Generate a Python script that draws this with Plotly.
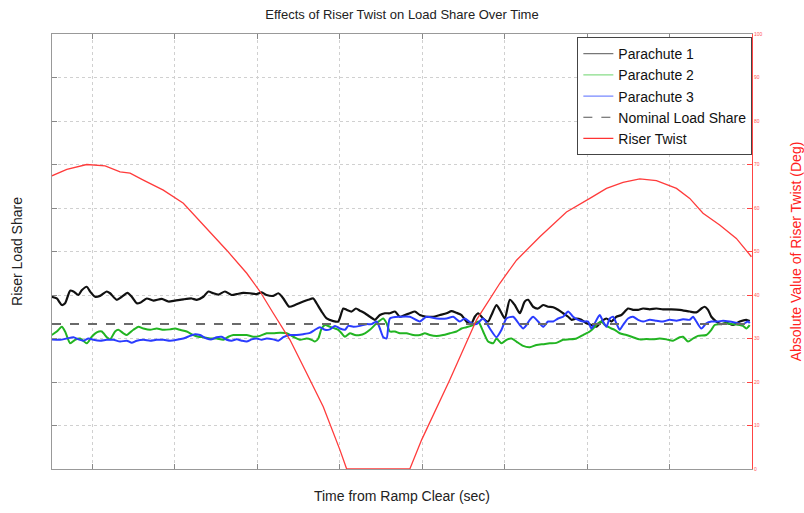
import plotly.graph_objects as go

# ---------------- data ----------------
# Parachute 1 (black)
p1_t = [5.07, 5.68, 6.29, 6.69, 7.30, 7.70, 8.31, 8.71, 9.32, 9.72, 10.33, 10.93, 11.74, 12.14, 12.95,
        13.56, 14.25, 14.77, 15.38, 15.78, 16.59, 17.40, 18.41, 19.22, 20.02, 21.03, 22.04, 22.65, 23.46,
        24.06, 24.67, 25.28, 26.08, 26.89, 27.50, 28.30, 29.11, 29.92, 30.53, 31.13, 31.94, 32.55, 33.16,
        33.88, 34.57, 35.58, 36.18, 36.79, 37.19, 37.80, 38.41, 39.22, 39.82, 40.43, 40.83, 41.44, 41.96,
        42.45, 43.05, 43.66, 44.27, 44.87, 45.48,
        46.08, 46.69, 47.29, 47.90, 48.50, 49.11, 49.72, 50.52, 51.33, 52.14, 52.95, 53.55, 54.16, 54.77,
        55.37, 55.98, 56.38, 56.79, 57.39, 58.00, 58.40, 59.01, 59.41, 60.02, 60.63, 61.23, 61.84, 62.44,
        62.85, 63.45, 64.06, 64.67, 65.27, 65.88, 66.48, 67.09, 67.70, 68.10, 68.71, 69.31, 69.92, 70.52,
        71.13, 71.74, 72.34, 72.95, 73.55, 74.16, 74.97, 75.57, 76.18, 76.79, 77.60, 78.40, 79.21, 80.22,
        81.23, 82.44, 83.25, 83.86, 84.26, 84.67, 85.07, 85.68, 86.28, 86.89, 87.70, 88.51, 89.31, 89.72]
p1_v = [0.396, 0.392, 0.377, 0.381, 0.410, 0.408, 0.400, 0.411, 0.419, 0.408, 0.396, 0.398, 0.408, 0.404, 0.389,
        0.396, 0.405, 0.396, 0.381, 0.382, 0.392, 0.387, 0.391, 0.385, 0.387, 0.390, 0.392, 0.389, 0.396,
        0.408, 0.404, 0.401, 0.408, 0.400, 0.402, 0.405, 0.404, 0.402, 0.406, 0.400, 0.398, 0.404, 0.392,
        0.373, 0.377, 0.385, 0.389, 0.392, 0.381, 0.362, 0.346, 0.340, 0.339, 0.369, 0.366, 0.362, 0.369,
        0.364, 0.358, 0.350, 0.343, 0.354, 0.358,
        0.358, 0.362, 0.350, 0.354, 0.358, 0.362, 0.354, 0.350, 0.350, 0.354, 0.358, 0.363, 0.359, 0.354,
        0.339, 0.335, 0.350, 0.358, 0.346, 0.339, 0.354, 0.377, 0.366, 0.346, 0.389, 0.377, 0.358, 0.385,
        0.389, 0.373, 0.369, 0.377, 0.373, 0.372, 0.366, 0.358, 0.350, 0.343, 0.346, 0.343, 0.335, 0.331,
        0.327, 0.339, 0.346, 0.339, 0.350, 0.354, 0.369, 0.366, 0.366, 0.369, 0.367, 0.369, 0.367, 0.367,
        0.366, 0.362, 0.360, 0.369, 0.373, 0.366, 0.350, 0.339, 0.333, 0.336, 0.331, 0.339, 0.343, 0.340]

# Parachute 2 (green)
p2_t = [5.07, 5.68, 6.29, 6.69, 7.30, 7.90, 8.51, 9.32, 9.92, 10.53, 11.13, 11.74, 12.14, 12.75, 13.15,
        13.76, 14.17, 14.97, 15.58, 16.19, 17.00, 17.80, 18.61, 19.42, 20.02, 20.63, 21.44, 22.25, 22.85,
        23.46, 24.27, 25.07, 25.88, 26.49, 27.09, 27.90, 28.71, 29.52, 30.33, 31.13, 31.94, 32.75, 33.56,
        34.37, 35.17, 35.98, 36.59, 36.99, 37.40, 37.80, 38.21, 38.81, 39.42, 39.82, 40.23, 40.63, 41.24,
        41.84, 42.45, 43.05, 43.66, 44.47, 45.28, 45.68,
        46.08, 46.69, 47.29, 48.10, 48.91, 49.72, 50.32, 50.93, 51.74, 52.54, 53.35, 54.16, 54.77, 55.37,
        56.18, 56.79, 57.39, 58.00, 58.61, 59.01, 59.62, 60.22, 60.83, 61.43, 62.24, 63.05, 63.86, 64.67,
        65.47, 66.28, 67.09, 67.90, 68.71, 69.51, 70.32, 70.93, 71.33, 71.74, 72.14, 72.55, 72.95, 73.35,
        73.96, 74.77, 75.57, 76.38, 77.19, 78.00, 78.81, 79.61, 80.42, 81.23, 81.64, 82.24, 82.85, 83.45,
        84.46, 85.07, 85.47, 86.08, 86.89, 87.70, 88.51, 88.91, 89.31, 89.72]
p2_v = [0.308, 0.316, 0.327, 0.316, 0.289, 0.297, 0.300, 0.289, 0.304, 0.314, 0.316, 0.303, 0.298, 0.316, 0.320,
        0.312, 0.308, 0.320, 0.327, 0.323, 0.320, 0.323, 0.320, 0.321, 0.323, 0.320, 0.316, 0.308, 0.304,
        0.303, 0.300, 0.300, 0.297, 0.304, 0.308, 0.308, 0.308, 0.304, 0.306, 0.312, 0.312, 0.313, 0.312,
        0.304, 0.297, 0.300, 0.297, 0.293, 0.300, 0.323, 0.331, 0.327, 0.323, 0.320, 0.312, 0.304, 0.312,
        0.308, 0.308, 0.312, 0.320, 0.335, 0.346, 0.335,
        0.316, 0.316, 0.312, 0.312, 0.308, 0.308, 0.312, 0.308, 0.306, 0.308, 0.312, 0.316, 0.323, 0.326,
        0.331, 0.339, 0.316, 0.293, 0.289, 0.300, 0.289, 0.297, 0.300, 0.293, 0.283, 0.280, 0.285, 0.287,
        0.289, 0.290, 0.297, 0.298, 0.300, 0.308, 0.316, 0.327, 0.335, 0.339, 0.331, 0.327, 0.323, 0.320,
        0.312, 0.308, 0.303, 0.298, 0.299, 0.298, 0.300, 0.298, 0.295, 0.303, 0.304, 0.293, 0.300, 0.306,
        0.308, 0.320, 0.331, 0.333, 0.335, 0.333, 0.331, 0.329, 0.323, 0.331]

# Parachute 3 (blue)
p3_t = [5.07, 6.08, 6.89, 7.70, 8.31, 8.91, 9.52, 10.12, 10.93, 11.74, 12.55, 13.36, 14.17, 14.77, 15.38,
        16.19, 17.00, 17.80, 18.61, 19.42, 20.23, 21.03, 21.84, 22.45, 23.05, 23.86, 24.47, 25.07, 25.68,
        26.29, 26.89, 27.50, 28.10, 28.71, 29.32, 29.92, 30.53, 31.13, 31.94, 32.55, 33.16, 33.96, 34.77,
        35.58, 36.39, 36.99, 37.60, 38.21, 38.81, 39.42, 40.02, 40.63, 41.03, 41.64, 42.45, 43.26, 43.86,
        44.47, 44.87, 45.28, 45.68,
        46.08, 47.29, 48.50, 49.72, 50.52, 51.74, 52.95, 53.76, 54.56, 55.17, 55.98, 56.59, 57.39, 58.20,
        59.01, 59.62, 60.22, 61.03, 61.84, 62.24, 62.65, 63.05, 63.45, 64.06, 64.67, 65.27, 65.88, 66.48,
        67.09, 67.70, 68.30, 68.91, 69.51, 70.12, 70.52, 70.93, 71.53, 71.94, 72.34, 72.75, 73.15, 73.55,
        73.96, 74.36, 74.97, 75.57, 76.18, 76.79, 77.60, 78.40, 79.21, 80.02, 80.83, 81.64, 82.44, 82.85,
        83.25, 83.86, 84.46, 85.07, 85.88, 86.48, 87.29, 88.10, 88.91, 89.51, 89.72]
p3_v = [0.298, 0.297, 0.300, 0.303, 0.298, 0.295, 0.300, 0.297, 0.295, 0.297, 0.297, 0.293, 0.295, 0.290, 0.295,
        0.297, 0.295, 0.297, 0.297, 0.295, 0.297, 0.300, 0.306, 0.310, 0.308, 0.300, 0.298, 0.303, 0.304,
        0.297, 0.295, 0.298, 0.295, 0.293, 0.298, 0.300, 0.297, 0.300, 0.298, 0.295, 0.303, 0.308, 0.308,
        0.310, 0.313, 0.320, 0.326, 0.320, 0.321, 0.329, 0.323, 0.320, 0.329, 0.327, 0.329, 0.333, 0.333,
        0.339, 0.323, 0.303, 0.300,
        0.346, 0.350, 0.350, 0.339, 0.350, 0.346, 0.346, 0.350, 0.339, 0.346, 0.335, 0.333, 0.346, 0.323,
        0.303, 0.320, 0.346, 0.350, 0.331, 0.323, 0.331, 0.343, 0.350, 0.339, 0.327, 0.339, 0.339, 0.346,
        0.350, 0.362, 0.350, 0.343, 0.339, 0.339, 0.323, 0.335, 0.354, 0.339, 0.327, 0.346, 0.350, 0.335,
        0.320, 0.331, 0.346, 0.350, 0.343, 0.339, 0.343, 0.341, 0.339, 0.343, 0.341, 0.344, 0.343, 0.350,
        0.339, 0.323, 0.335, 0.339, 0.339, 0.341, 0.339, 0.336, 0.333, 0.339, 0.335]

# Nominal load share
nominal_t = [5.1, 90.0]
nominal_v = [1 / 3, 1 / 3]

# Riser twist (deg, absolute)
twist_t = [5.08, 6.9, 9.32, 11.54, 13.36, 14.57, 16.18, 18.6, 21.03, 23.87, 26.29, 28.72, 30.33, 31.94,
           33.96, 35.99, 38.0, 40.02, 40.84, 48.5, 49.93, 53.35, 56.59, 59.42, 61.44, 64.27, 67.5, 70.33,
           72.35, 74.36, 76.39, 78.41, 80.84, 82.45, 84.06, 86.08, 88.1, 89.93]
twist_v = [67.4, 68.9, 70.0, 69.7, 68.3, 68.0, 66.4, 64.1, 61.1, 55.3, 50.3, 45.0, 40.8, 35.8,
           29.7, 22.0, 14.3, 4.4, 0.0, 0.0, 6.7, 20.5, 34.3, 42.7, 48.0, 53.4, 59.1, 62.2,
           64.5, 65.9, 66.7, 66.3, 64.5, 62.2, 58.8, 56.1, 53.0, 48.8]

x_ticks = [10, 20, 30, 40, 50, 60, 70, 80, 90]

series_names = ["Parachute 1", "Parachute 2", "Parachute 3", "Nominal Load Share", "Riser Twist"]

# ---------------- figure ----------------
FONT = "Liberation Sans, Arial, Helvetica, sans-serif"
fig = go.Figure()

data_traces = [
    (p1_t, p1_v, "#111111", 2.2, None, "spline", "y"),
    (p2_t, p2_v, "#22b422", 2.0, None, "spline", "y"),
    (p3_t, p3_v, "#2a3cff", 2.0, None, "spline", "y"),
    (nominal_t, nominal_v, "#6a6a6a", 1.8, "dash", "linear", "y"),
    (twist_t, twist_v, "#ff3b3b", 1.3, None, "linear", "y2"),
]
legend_styles = [
    ("#777777", 1.2, None),
    ("#88dd88", 1.2, None),
    ("#7788ff", 1.2, None),
    ("#555555", 1.2, "dash"),
    ("#ff3333", 1.2, None),
]

for (xs, ys, col, w, dash, shape, ax), name in zip(data_traces, series_names):
    fig.add_trace(go.Scatter(x=xs, y=ys, name=name, mode="lines", yaxis=ax, showlegend=False,
                             line=dict(color=col, width=w, dash=dash, shape=shape, smoothing=0.6)))

# legend-only entries (thin, light line samples as in the reference)
for (col, w, dash), name in zip(legend_styles, series_names):
    fig.add_trace(go.Scatter(x=[None], y=[None], name=name, mode="lines",
                             line=dict(color=col, width=w, dash=dash)))

fig.update_layout(
    width=804, height=513,
    margin=dict(l=52, r=52, t=34, b=44, autoexpand=False),
    paper_bgcolor="white", plot_bgcolor="white",
    font=dict(family=FONT, size=14, color="#222222"),
    title=dict(text="Effects of Riser Twist on Load Share Over Time", x=0.5, xanchor="center",
               y=0.972, yanchor="middle", font=dict(size=13, color="#222222")),
    xaxis=dict(range=[5.1, 90.0], tickvals=x_ticks, showticklabels=False,
               ticks="inside", ticklen=5, tickcolor="#888888",
               showline=True, linecolor="#999999", linewidth=1, mirror="ticks",
               showgrid=True, gridcolor="#d0d0d0", griddash="dot", gridwidth=1, zeroline=False,
               automargin=False,
               title=dict(text="Time from Ramp Clear (sec)", standoff=22, font=dict(size=14))),
    yaxis=dict(range=[0, 1], dtick=0.1, showticklabels=False,
               ticks="inside", ticklen=5, tickcolor="#888888",
               showline=True, linecolor="#999999", linewidth=1,
               showgrid=True, gridcolor="#d0d0d0", griddash="dot", gridwidth=1, zeroline=False,
               automargin=False,
               title=dict(text="Riser Load Share", standoff=25, font=dict(size=14))),
    yaxis2=dict(range=[0, 100], dtick=10, overlaying="y", side="right",
                showticklabels=True, tickfont=dict(size=5, color="#ff5555"),
                ticks="inside", ticklen=5, tickcolor="#ff4444",
                showline=True, linecolor="#ff4444", linewidth=1, showgrid=False, zeroline=False,
                automargin=False,
                title=dict(text="Absolute Value of Riser Twist (Deg)", standoff=30,
                           font=dict(size=14, color="#ff2222"))),
    legend=dict(x=0.7505, y=0.993, xanchor="left", yanchor="top",
                bgcolor="white", bordercolor="#444444", borderwidth=1,
                font=dict(size=14, color="#111111"), itemwidth=30, tracegroupgap=0),
    showlegend=True,
)

fig.write_html("out.html")
